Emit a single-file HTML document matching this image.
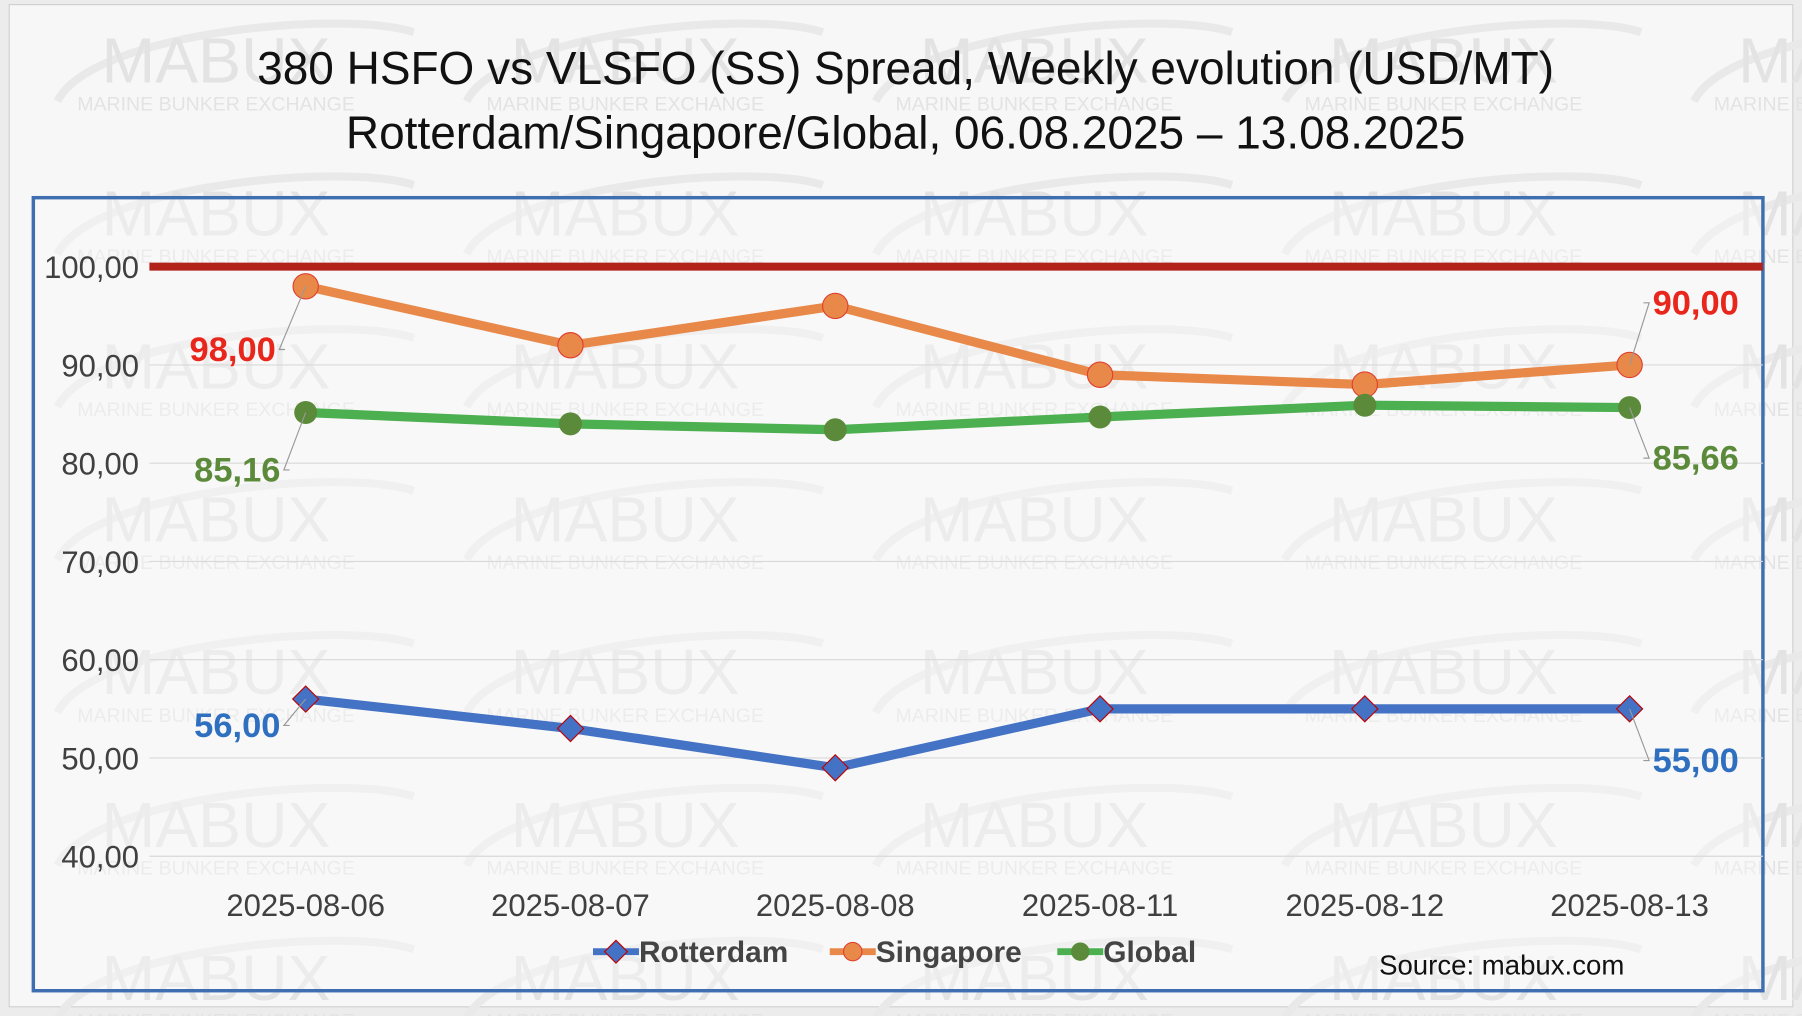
<!DOCTYPE html>
<html><head><meta charset="utf-8"><style>
html,body{margin:0;padding:0;background:#efefef;}
svg{display:block;}
text{font-family:"Liberation Sans",sans-serif;}
</style></head><body>
<svg id="chart" width="1802" height="1016" viewBox="0 0 1568 884" preserveAspectRatio="none" xmlns="http://www.w3.org/2000/svg">
<rect x="0" y="0" width="1568" height="884" fill="#ececec"/>
<rect x="8" y="4" width="1552" height="872" fill="#f7f7f7" stroke="#d0d0d0"/>
<g id="wm"></g>
<text x="788" y="73" font-size="40" text-anchor="middle" fill="#111">380 HSFO vs VLSFO (SS) Spread, Weekly evolution (USD/MT)</text>
<text x="788" y="129" font-size="40" text-anchor="middle" fill="#111">Rotterdam/Singapore/Global, 06.08.2025 – 13.08.2025</text>
<rect x="29" y="172" width="1505" height="690" fill="rgba(250,250,250,0.4)" stroke="#3f6fb0" stroke-width="3"/>
<g id="grid"></g>
<g id="yticks"></g>
<g id="xticks"></g>
<g id="series"></g>
<g id="labels"></g>
<g>
  <g>
    <line x1="516" y1="828" x2="556" y2="828" stroke="#4472c4" stroke-width="6"/>
    <rect x="529" y="821" width="14" height="14" transform="rotate(45 536 828)" fill="#4472c4" stroke="#c00000"/>
    <text x="556" y="837" font-size="26" font-weight="bold" fill="#444">Rotterdam</text>
  </g>
  <g>
    <line x1="722" y1="828" x2="762" y2="828" stroke="#e8894a" stroke-width="6"/>
    <circle cx="742" cy="828" r="8" fill="#e8894a" stroke="#e04030"/>
    <text x="762" y="837" font-size="26" font-weight="bold" fill="#444">Singapore</text>
  </g>
  <g>
    <line x1="920" y1="828" x2="960" y2="828" stroke="#4caf50" stroke-width="6"/>
    <circle cx="940" cy="828" r="8" fill="#5a8a3a"/>
    <text x="960" y="837" font-size="26" font-weight="bold" fill="#444">Global</text>
  </g>
</g>
<text x="1200" y="848" font-size="24" fill="#111">Source: mabux.com</text>
</svg>
<script>
const categories = ["2025-08-06","2025-08-07","2025-08-08","2025-08-11","2025-08-12","2025-08-13"];
const rotterdam = [56, 53, 49, 55, 55, 55];
const singapore = [98, 92, 96, 89, 88, 90];
const globalIdx = [85.16, 84.0, 83.4, 84.7, 85.9, 85.66];
const yTicks = [40, 50, 60, 70, 80, 90, 100];
const refValue = 100;

const NS = "http://www.w3.org/2000/svg";
function mk(tag, attrs, parent){const e=document.createElementNS(NS,tag);for(const k in attrs)e.setAttribute(k,attrs[k]);parent.appendChild(e);return e;}
const X0=266, XSTEP=230.4;
function xs(i){return X0+i*XSTEP;}
function ys(v){return 745-(v-40)*(513/60);}
function fmt(v){return v.toFixed(2).replace('.',',');}

const wm=document.getElementById('wm');
for(let r=0;r<7;r++){for(let c=0;c<5;c++){
  const x=60+c*356, y=48+r*133;
  const el=mk('path',{d:`M${x-10},${y+40} C${x+20},${y-20} ${x+240},${y-40} ${x+300},${y-20}`,fill:'none',stroke:'#e9e9e9','stroke-width':7},wm);
  
  
  const t=mk('text',{x:x+128,y:y+24,'font-size':56,'text-anchor':'middle','font-family':'Liberation Serif, serif',fill:'#e3e3e3'},wm);
  t.textContent='MABUX';
  
  
  const t2=mk('text',{x:x+128,y:y+48,'font-size':17,'text-anchor':'middle','font-family':'Liberation Serif, serif',fill:'#e3e3e3'},wm);
  t2.textContent='MARINE BUNKER EXCHANGE';
  
  
}}

const grid=document.getElementById('grid'), yt=document.getElementById('yticks');
yTicks.forEach(v=>{
  const g=mk('line',{x1:130,x2:1534,y1:ys(v),y2:ys(v),stroke:'#d9d9d9','stroke-width':1},grid);
  
  
  const t=mk('text',{x:121,y:ys(v)+10,'font-size':27,'text-anchor':'end',fill:'#404040'},yt);
  t.textContent=fmt(v);
  
  
});
const xt=document.getElementById('xticks');
categories.forEach((c,i)=>{
  const t=mk('text',{x:xs(i),y:797,'font-size':27,'text-anchor':'middle',fill:'#404040'},xt);
  t.textContent=c;
  
  
});

const sg=document.getElementById('series');
const ref=mk('line',{x1:130,x2:1534,y1:ys(refValue),y2:ys(refValue),stroke:'#b22218','stroke-width':7},sg);



function drawSeries(vals,color,name,marker){
  const pts=vals.map((v,i)=>xs(i)+','+ys(v)).join(' ');
  const pl=mk('polyline',{points:pts,fill:'none',stroke:color,'stroke-width':8,'stroke-linejoin':'round'},sg);
  
  
  vals.forEach((v,i)=>{
    let m;
    if(marker==='diamond'){
      m=mk('rect',{x:xs(i)-8,y:ys(v)-8,width:16,height:16,transform:`rotate(45 ${xs(i)} ${ys(v)})`,fill:'#4472c4',stroke:'#c00000','stroke-width':1},sg);
    } else if(marker==='orange'){
      m=mk('circle',{cx:xs(i),cy:ys(v),r:11,fill:'#e8894a',stroke:'#e04030','stroke-width':1},sg);
    } else {
      m=mk('circle',{cx:xs(i),cy:ys(v),r:10,fill:'#5a8a3a'},sg);
    }
    
    
  });
}
drawSeries(singapore,'#e8894a','singapore','orange');
drawSeries(globalIdx,'#4caf50','global','green');
drawSeries(rotterdam,'#4472c4','rotterdam','diamond');

const lg=document.getElementById('labels');
function label(i,v,color,dx,dy,anchor,name){
  const lx=xs(i)+dx, ly=ys(v)+dy;
  const ln=mk('polyline',{points:`${xs(i)},${ys(v)} ${lx+(anchor==='end'?3:-3)},${ly-10} ${lx+(anchor==='end'?8:-8)},${ly-10}`,fill:'none',stroke:'#999','stroke-width':1},lg);
  
  
  const t=mk('text',{x:lx,y:ly,'font-size':30,'font-weight':'bold','text-anchor':anchor,fill:color},lg);
  t.textContent=fmt(v);
  
  
}
const L=categories.length-1;
label(0,singapore[0],'#e8261c',-26,65,'end','label-singapore-first');
label(L,singapore[L],'#e8261c',20,-44,'start','label-singapore-last');
label(0,globalIdx[0],'#5b8a3a',-22,60,'end','label-global-first');
label(L,globalIdx[L],'#5b8a3a',20,54,'start','label-global-last');
label(0,rotterdam[0],'#2e6fbf',-22,33,'end','label-rotterdam-first');
label(L,rotterdam[L],'#2e6fbf',20,55,'start','label-rotterdam-last');
</script>
</body></html>
